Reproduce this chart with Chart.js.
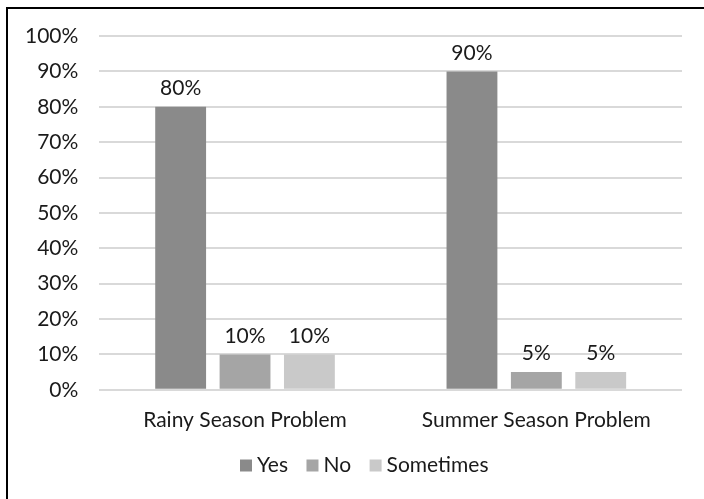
<!DOCTYPE html>
<html>
<head>
<meta charset="utf-8">
<script src="https://cdn.jsdelivr.net/npm/chart.js@4"></script>
<style>
  html, body { margin: 0; padding: 0; background: #fff; }
  #wrap { position: relative; width: 704px; height: 499px; overflow: hidden; }
  #frame {
    position: absolute; left: 6px; top: 7px; width: 720px; height: 520px;
    border-left: 2px solid #000; border-top: 2px solid #000;
  }
  canvas { position: absolute; left: 0; top: 0; }
</style>
</head>
<body>
<div id="wrap">
  <div id="frame"></div>
  <canvas id="chart" width="704" height="499"></canvas>
</div>
<script>
  // --- DATA ---
  const categories = ["Rainy Season Problem", "Summer Season Problem"];
  const yesValues = [0.8, 0.9];
  const noValues = [0.1, 0.05];
  const sometimesValues = [0.1, 0.05];
  const yTicks = [0, 0.1, 0.2, 0.3, 0.4, 0.5, 0.6, 0.7, 0.8, 0.9, 1.0];

  const textColor = "#1a1a1a";
  const fontFamily = "Lato, 'Open Sans', sans-serif";
  const fontSize = 21;

  // draws the percent label above each bar
  const barLabels = {
    id: "barLabels",
    afterDatasetsDraw(chart) {
      const ctx = chart.ctx;
      ctx.save();
      ctx.fillStyle = textColor;
      ctx.font = fontSize + "px " + fontFamily;
      ctx.textAlign = "center";
      ctx.textBaseline = "bottom";
      chart.data.datasets.forEach((ds, i) => {
        chart.getDatasetMeta(i).data.forEach((bar, j) => {
          const v = Math.round(ds.data[j] * 100) + "%";
          ctx.fillText(v, bar.x, bar.y - 8);
        });
      });
      ctx.restore();
    },
  };

  // nudge the legend so it sits under the plot like the original
  const legendShift = {
    id: "legendShift",
    afterLayout(chart) {
      const lg = chart.legend;
      if (!lg) return;
      lg.left += 24;
      lg.right += 24;
      lg.top -= 12;
      lg.bottom -= 12;
    },
  };

  new Chart(document.getElementById("chart").getContext("2d"), {
    type: "bar",
    data: {
      labels: categories,
      datasets: [
        { label: "Yes", data: yesValues, backgroundColor: "#8a8a8a" },
        { label: "No", data: noValues, backgroundColor: "#a5a5a5" },
        { label: "Sometimes", data: sometimesValues, backgroundColor: "#c9c9c9" },
      ],
    },
    options: {
      responsive: false,
      animation: false,
      categoryPercentage: 0.663,
      barPercentage: 0.79,
      layout: { padding: { left: 4, right: 22, top: 36, bottom: 1 } },
      scales: {
        x: {
          grid: { display: false },
          border: { display: false },
          ticks: { color: textColor, font: { family: fontFamily, size: fontSize }, padding: 10 },
        },
        y: {
          min: 0,
          max: 1,
          afterBuildTicks: (axis) => {
            axis.ticks = yTicks.map((v) => ({ value: v }));
          },
          grid: { color: "#d9d9d9", lineWidth: 2, drawTicks: false },
          border: { display: false },
          ticks: {
            color: textColor,
            font: { family: fontFamily, size: fontSize },
            padding: 21,
            callback: (value) => Math.round(value * 100) + "%",
          },
        },
      },
      plugins: {
        legend: {
          position: "bottom",
          labels: {
            color: textColor,
            font: { family: fontFamily, size: fontSize },
            usePointStyle: true,
            pointStyle: "rect",
            boxWidth: 1,
            boxHeight: 12,
            padding: 24,
          },
        },
        tooltip: { enabled: false },
      },
    },
    plugins: [barLabels, legendShift],
  });
</script>
</body>
</html>
